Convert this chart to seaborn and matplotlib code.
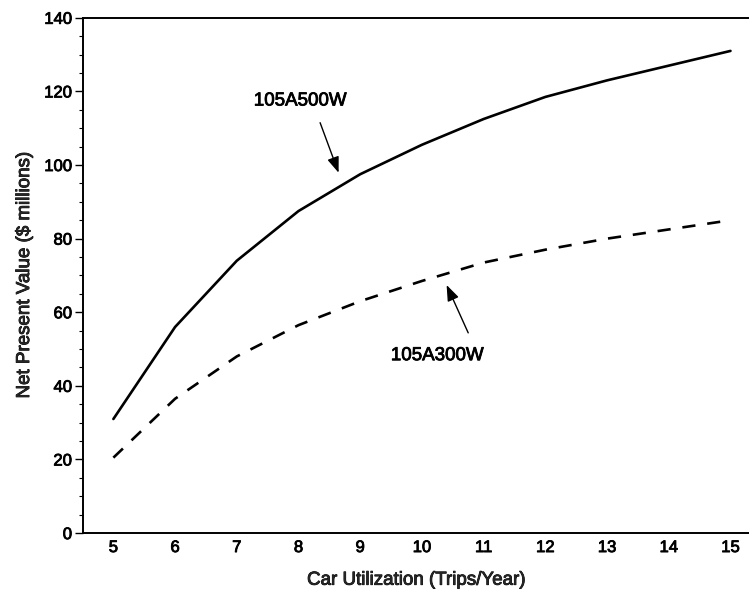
import matplotlib
matplotlib.use("Agg")
import matplotlib.pyplot as plt
import matplotlib.patheffects as pe
import seaborn as sns
import pandas as pd
from matplotlib.ticker import MultipleLocator

trips = [5, 6, 7, 8, 9, 10, 11, 12, 13, 14, 15]
npv_500w = [31, 56, 74, 87.5, 97.5, 105.5, 112.5, 118.5, 123, 127, 131]
npv_300w = [20.5, 36.5, 48, 56.5, 63, 68.5, 73.5, 77, 80, 82.5, 85]
series_names = ["105A500W", "105A300W"]
yticks = [0, 20, 40, 60, 80, 100, 120, 140]

df = pd.DataFrame({
    "trips": trips * 2,
    "npv": npv_500w + npv_300w,
    "series": [series_names[0]] * len(trips) + [series_names[1]] * len(trips),
})

sns.set_theme(style="white")
plt.rcParams['font.family'] = ['Liberation Sans', 'DejaVu Sans']
plt.rcParams['text.color'] = 'black'

fig = plt.figure(figsize=(7.49, 5.93), dpi=100)
ax = fig.add_axes([0.111, 0.101, 0.889, 0.869])

sns.lineplot(data=df, x="trips", y="npv", style="series", ax=ax,
             color="black", linewidth=1.9, legend=False,
             dashes={series_names[0]: "", series_names[1]: (5, 4.5)})

ax.set_xlim(4.51, 15.3)
ax.set_ylim(0, 140)
ax.set_xticks(trips)
ax.set_yticks(yticks)
ax.yaxis.set_minor_locator(MultipleLocator(5))

for s in ["top", "bottom", "left"]:
    ax.spines[s].set_visible(True)
    ax.spines[s].set_color("black")
    ax.spines[s].set_linewidth(1.4)
ax.spines["right"].set_visible(False)

ax.tick_params(axis="y", which="major", direction="out", length=6, width=1,
               left=True, labelsize=12, colors="black", pad=2)
ax.tick_params(axis="y", which="minor", direction="out", length=3, width=0.8, left=True, color="black")
ax.tick_params(axis="x", which="both", length=0, labelsize=12, pad=5, colors="black")

ax.set_xlabel("Car Utilization (Trips/Year)", fontsize=13.5, labelpad=12)
ax.set_ylabel("Net Present Value ($ millions)", fontsize=13.5, labelpad=8)

arrowprops = dict(arrowstyle="-|>,head_length=0.8,head_width=0.3", color="black", lw=1.0,
                  shrinkA=0, shrinkB=0)
ax.annotate("", xy=(8.65, 97.9), xytext=(8.35, 111.5), arrowprops=arrowprops)
ax.text(8.03, 117.4, series_names[0], ha="center", va="center", fontsize=13.5)
ax.annotate("", xy=(10.4, 67.4), xytext=(10.75, 54.4), arrowprops=arrowprops)
ax.text(10.25, 48.2, series_names[1], ha="center", va="center", fontsize=13.5)

thick = [pe.withStroke(linewidth=0.6, foreground="black")]
for t in ax.get_xticklabels() + ax.get_yticklabels() + ax.texts + [ax.xaxis.label, ax.yaxis.label]:
    t.set_path_effects(thick)

fig.savefig("out.png", dpi=100)
